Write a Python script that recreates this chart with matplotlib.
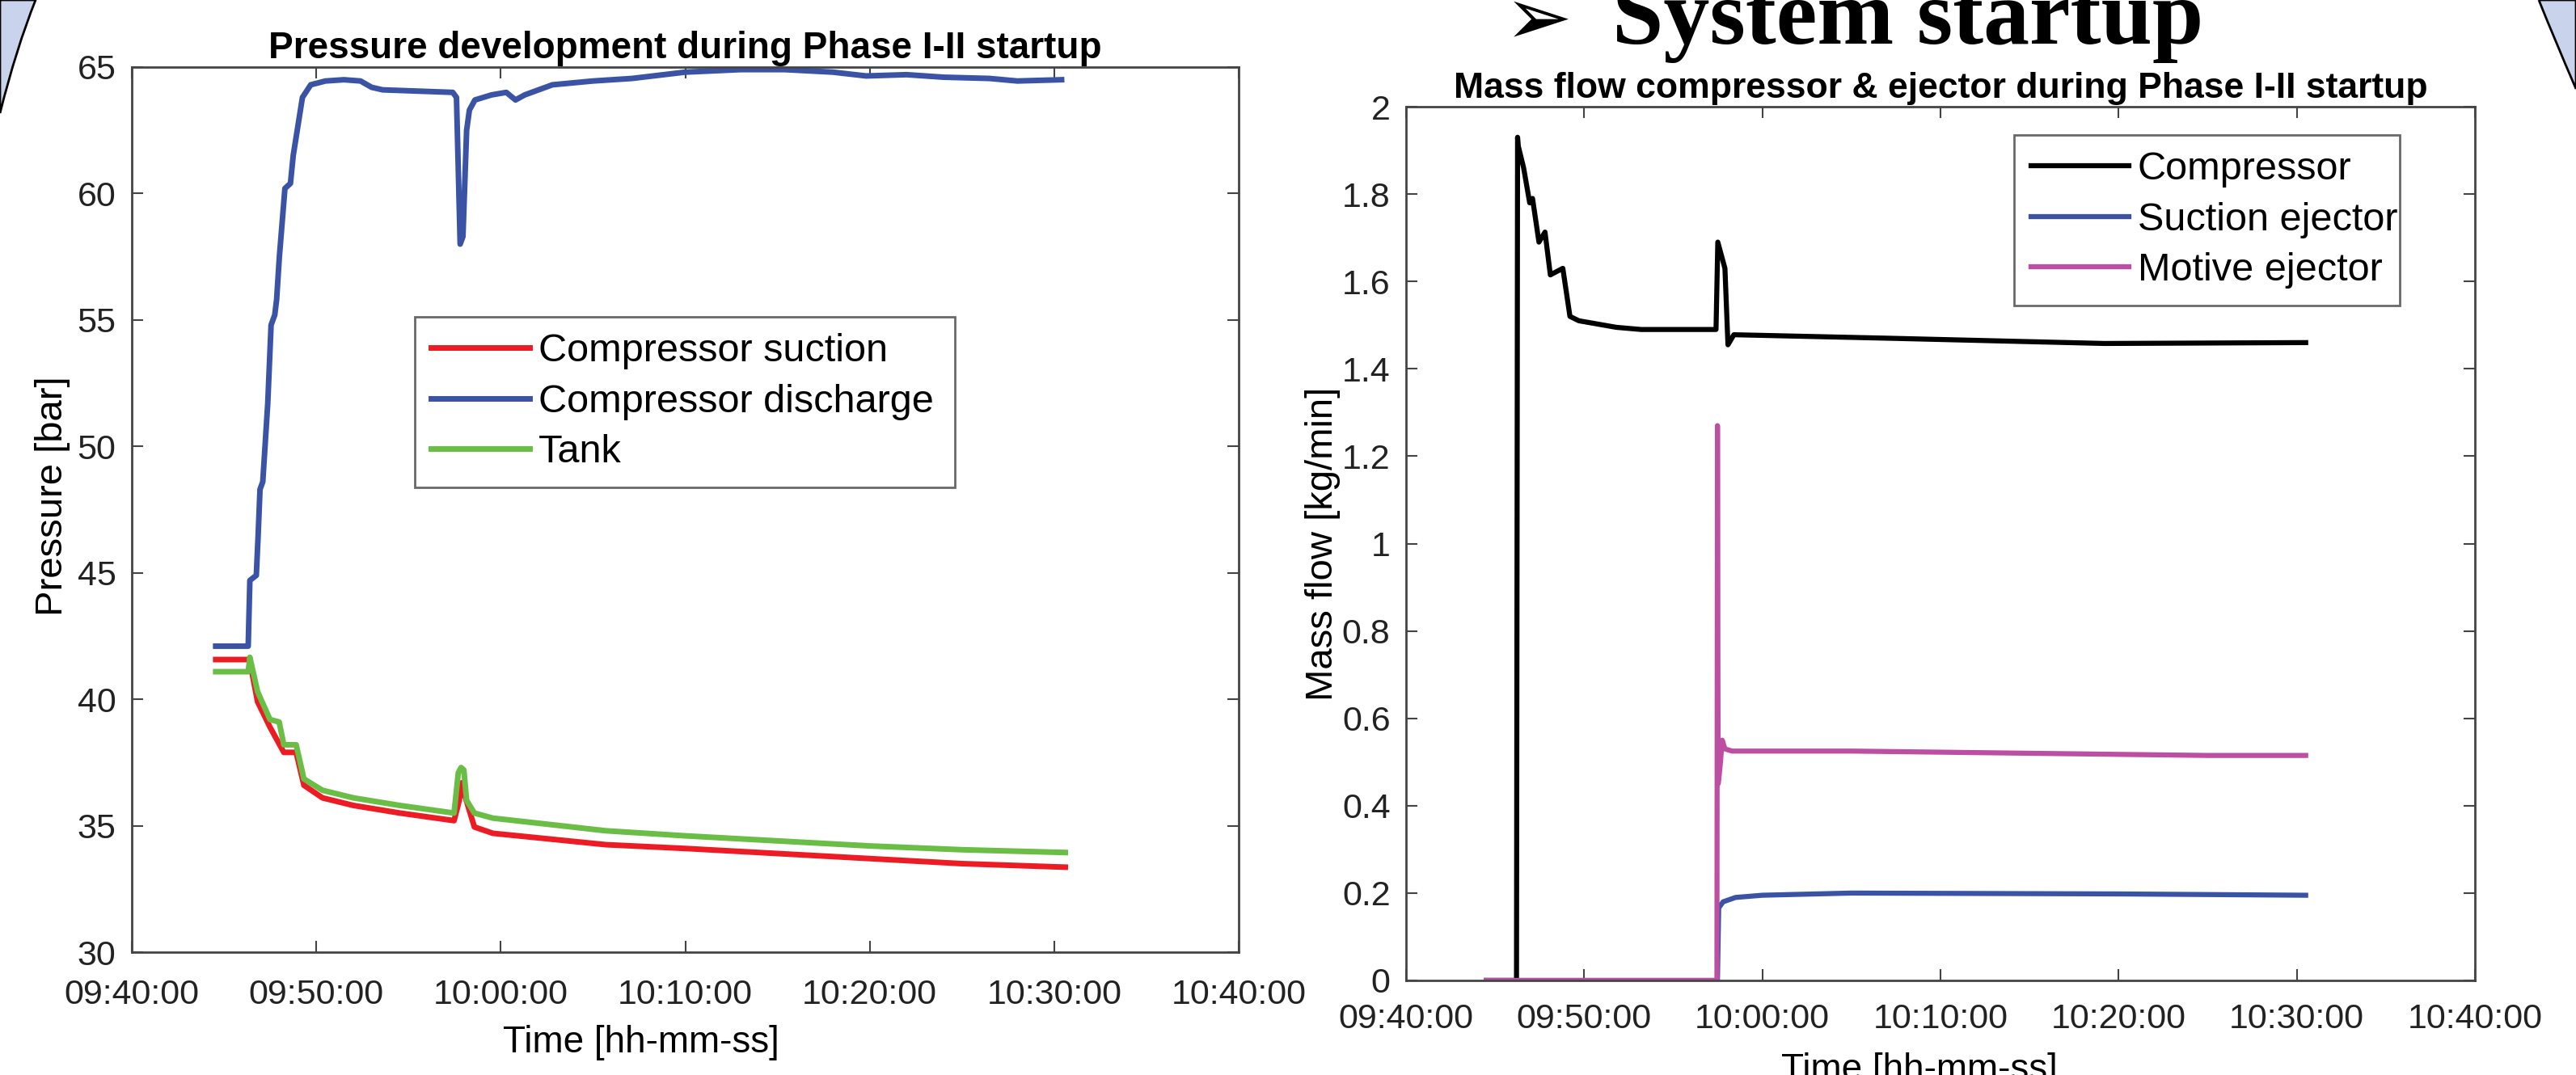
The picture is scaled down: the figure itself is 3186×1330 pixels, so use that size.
import matplotlib
matplotlib.use("Agg")
import matplotlib.pyplot as plt
from matplotlib.path import Path
from matplotlib.patches import PathPatch

plt.rcParams['font.family'] = ['Liberation Sans', 'DejaVu Sans']

# time axis, minutes after 09:40:00
time_ticks = [0, 10, 20, 30, 40, 50, 60]
time_labels = ['09:40:00', '09:50:00', '10:00:00', '10:10:00', '10:20:00', '10:30:00', '10:40:00']

# --- pressure plot (bar) ---
t_disch = [4.55, 6.31, 6.4, 6.75, 6.85, 6.95, 7.1, 7.37, 7.55, 7.75, 7.85, 8.0, 8.3, 8.6, 8.75,
           9.25, 9.7, 10.5, 11.5, 12.4, 13.0, 13.6, 15.5, 17.4, 17.6, 17.8, 17.95, 18.15, 18.3,
           18.6, 19.5, 20.3, 20.8, 21.3, 22.8, 25.0, 27.1, 30.0, 33.0, 35.4, 38.0, 39.8, 42.0,
           44.0, 46.5, 48.0, 50.4]
p_disch = [42.1, 42.1, 44.7, 44.9, 46.5, 48.3, 48.6, 51.7, 54.8, 55.2, 55.8, 57.5, 60.2, 60.4, 61.5,
           63.8, 64.3, 64.45, 64.5, 64.45, 64.2, 64.1, 64.05, 64.0, 63.8, 58.0, 58.3, 62.5, 63.3,
           63.7, 63.9, 64.0, 63.7, 63.9, 64.3, 64.45, 64.55, 64.8, 64.9, 64.9, 64.8, 64.65, 64.7,
           64.6, 64.55, 64.45, 64.5]

t_suct = [4.55, 6.31, 6.4, 6.82, 7.49, 8.24, 8.91, 9.33, 10.34, 12.02, 14.54, 17.47, 17.75, 17.9,
          18.05, 18.57, 19.57, 25.7, 30.0, 35.0, 40.0, 45.0, 50.6]
p_suct = [41.57, 41.57, 41.5, 39.9, 38.9, 37.9, 37.9, 36.6, 36.1, 35.8, 35.5, 35.2, 36.0, 36.7,
          36.2, 34.95, 34.7, 34.25, 34.1, 33.9, 33.7, 33.5, 33.36]

t_tank = [4.55, 6.31, 6.4, 6.82, 7.49, 7.99, 8.24, 8.91, 9.33, 10.34, 12.02, 14.54, 17.47, 17.7,
          17.85, 18.0, 18.15, 18.57, 19.57, 25.7, 30.0, 35.0, 40.0, 45.0, 50.6]
p_tank = [41.09, 41.09, 41.66, 40.3, 39.2, 39.1, 38.2, 38.2, 36.85, 36.4, 36.1, 35.8, 35.5, 37.1,
          37.3, 37.2, 36.0, 35.5, 35.3, 34.8, 34.6, 34.4, 34.2, 34.05, 33.94]

# --- mass flow plot (kg/min) ---
t_comp = [4.5, 6.2, 6.26, 6.3, 6.6, 6.94, 7.1, 7.46, 7.8, 8.1, 8.8, 9.2, 9.7, 11.8, 13.2, 17.2,
          17.4, 17.5, 17.9, 18.07, 18.4, 27.1, 39.2, 50.5]
m_comp = [0.0, 0.0, 1.93, 1.91, 1.86, 1.78, 1.79, 1.69, 1.713, 1.615, 1.63, 1.52, 1.51, 1.495, 1.49,
          1.49, 1.49, 1.69, 1.63, 1.455, 1.478, 1.47, 1.458, 1.46]

t_suc_ej = [4.5, 17.48, 17.55, 17.8, 18.5, 20.0, 25.0, 40.0, 50.5]
m_suc_ej = [0.0, 0.0, 0.166, 0.18, 0.19, 0.195, 0.2, 0.198, 0.195]

t_mot_ej = [4.5, 17.45, 17.48, 17.52, 17.58, 17.65, 17.75, 17.9, 18.3, 25.0, 35.0, 45.0, 50.5]
m_mot_ej = [0.0, 0.0, 1.27, 0.45, 0.47, 0.5, 0.55, 0.53, 0.525, 0.525, 0.52, 0.515, 0.515]

W, H = 3186, 1330
fig = plt.figure(figsize=(W / 100, H / 100), dpi=100)
fig.patch.set_facecolor('white')


def ax_rect(x0, y0, x1, y1):
    return [x0 / W, 1 - y1 / H, (x1 - x0) / W, (y1 - y0) / H]


def style_axes(ax, xpad):
    for s in ax.spines.values():
        s.set_color('#444444')
        s.set_linewidth(2.0)
    ax.tick_params(direction='in', length=10, width=1.5, colors='#444444',
                   top=True, right=True, labelsize=31, labelcolor='#222222')
    ax.tick_params(axis='x', pad=xpad)
    ax.tick_params(axis='y', pad=14)
    ax.set_xlim(0, 60)
    ax.set_xticks(time_ticks)
    ax.set_xticklabels(time_labels)


def add_legend(ax, box):
    leg = ax.legend(loc='upper left', bbox_to_anchor=box, mode='expand', fontsize=35,
                    frameon=True, fancybox=False, handlelength=2.5, handletextpad=0.22,
                    borderpad=0.42, labelspacing=0.36, borderaxespad=0)
    leg.get_frame().set_edgecolor('#444444')
    leg.get_frame().set_linewidth(2)
    return leg


ax1 = fig.add_axes(ax_rect(163, 83, 1532, 1178))
ax1.plot(t_suct, p_suct, color='#ED1C24', lw=5, label='Compressor suction')
ax1.plot(t_disch, p_disch, color='#3A53A4', lw=5, label='Compressor discharge')
ax1.plot(t_tank, p_tank, color='#6ABD45', lw=5, label='Tank')
style_axes(ax1, 24)
ax1.set_ylim(30, 65)
ax1.set_yticks([30, 35, 40, 45, 50, 55, 60, 65])
ax1.set_title('Pressure development during Phase I-II startup', fontsize=33,
              fontweight='bold', pad=8)
ax1.set_xlabel('Time [hh-mm-ss]', fontsize=33)
ax1.xaxis.set_label_coords(0.46, -0.082)
ax1.set_ylabel('Pressure [bar]', fontsize=34)
ax1.yaxis.set_label_coords(-0.0555, 0.515)
add_legend(ax1, (0.2557, 0.5306, 0.4879, 0.1872))

ax2 = fig.add_axes(ax_rect(1739, 132, 3061, 1213))
ax2.plot(t_comp, m_comp, color='black', lw=4.5, label='Compressor')
ax2.plot(t_suc_ej, m_suc_ej, color='#3A53A4', lw=4.5, label='Suction ejector')
ax2.plot(t_mot_ej, m_mot_ej, color='#BD4FA2', lw=4.5, label='Motive ejector')
style_axes(ax2, 20)
ax2.set_ylim(0, 2)
ax2.set_yticks([0, 0.2, 0.4, 0.6, 0.8, 1, 1.2, 1.4, 1.6, 1.8, 2])
ax2.set_yticklabels(['0', '0.2', '0.4', '0.6', '0.8', '1', '1.2', '1.4', '1.6', '1.8', '2'])
ax2.set_title('Mass flow compressor & ejector during Phase I-II startup', fontsize=32,
              fontweight='bold', pad=8)
ax2.set_xlabel('Time [hh-mm-ss]', fontsize=33)
ax2.xaxis.set_label_coords(0.48, -0.082)
ax2.set_ylabel('Mass flow [kg/min]', fontsize=34)
ax2.yaxis.set_label_coords(-0.0613, 0.4995)
add_legend(ax2, (0.569, 0.7817, 0.361, 0.1859))

# slide heading, cut by the top edge
fig.text(1903 / W, 1 - 54 / H, '\u27a2', fontsize=72, fontfamily='DejaVu Sans',
         ha='center', va='baseline', color='black')
fig.text(1994 / W, 1 - 54 / H, 'System startup', fontsize=82, fontweight='bold',
         fontfamily='Liberation Serif', ha='left', va='baseline', color='black')


# slide frame decoration in the corners
def px(x, y):
    return (x / W, 1 - y / H)


left_deco = Path([px(0, 0), px(44, 0), px(20, 60), px(0, 140), px(0, 0)],
                 [Path.MOVETO, Path.LINETO, Path.CURVE3, Path.CURVE3, Path.CLOSEPOLY])
fig.add_artist(PathPatch(left_deco, transform=fig.transFigure, facecolor='#CAD3EC',
                         edgecolor='black', lw=2))
right_deco = Path([px(3140, 0), px(3186, 0), px(3186, 110), px(3160, 50), px(3140, 0)],
                  [Path.MOVETO, Path.LINETO, Path.LINETO, Path.CURVE3, Path.CURVE3])
fig.add_artist(PathPatch(right_deco, transform=fig.transFigure, facecolor='#CAD3EC',
                         edgecolor='black', lw=2))

fig.savefig('out.png', dpi=100, facecolor='white')
